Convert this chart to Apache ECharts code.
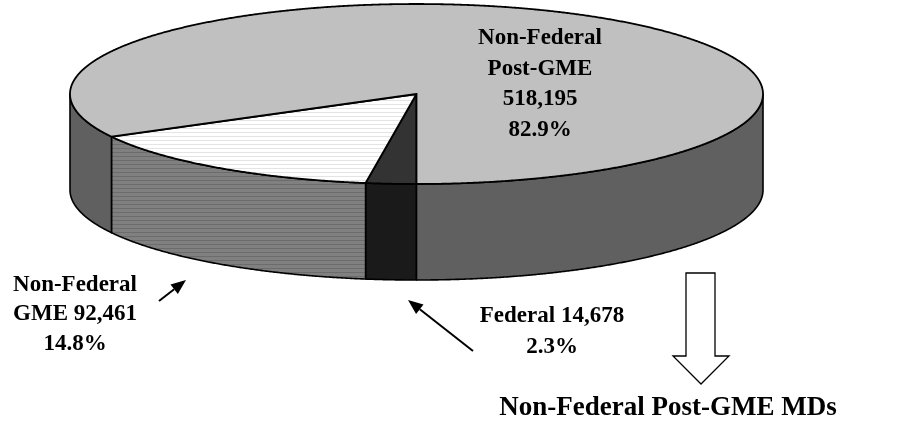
<!DOCTYPE html>
<html>
<head>
<meta charset="utf-8">
<script src="https://cdn.jsdelivr.net/npm/echarts@6/dist/echarts.min.js"></script>
<style>
html, body { margin: 0; padding: 0; background: #fff; }
#main { width: 898px; height: 425px; }
</style>
</head>
<body>
<div id="main"></div>
<script>
// clockwise from the front of the pie
var names = ["Federal", "Non-Federal GME", "Non-Federal Post-GME"];
var values = [14678, 92461, 518195];
var percents = ["2.3%", "14.8%", "82.9%"];
var labelTexts = [
    "Federal 14,678\n2.3%",
    "Non-Federal\nGME 92,461\n14.8%",
    "Non-Federal\nPost-GME\n518,195\n82.9%"
];
var titleText = "Non-Federal Post-GME MDs";

var total = values.reduce(function (a, b) { return a + b; }, 0);

var cx = 416.5, cy = 94, rx = 346.5, ry = 90, depth = 96;
var squash = ry / rx;

function stripes(base, line) {
    var c = document.createElement("canvas");
    c.width = 4;
    c.height = 4;
    var ctx = c.getContext("2d");
    ctx.fillStyle = base;
    ctx.fillRect(0, 0, 4, 4);
    ctx.fillStyle = line;
    ctx.fillRect(0, 0, 4, 1);
    return { image: c, repeat: "repeat" };
}

var topColors = ["#333333", stripes("#ffffff", "#e4e4e4"), "#c0c0c0"];
var sideColors = ["#1a1a1a", stripes("#808080", "#6c6c6c"), "#606060"];

var sliceData = [];
var sum = 0;
values.forEach(function (v, i) {
    sliceData.push([1, sum, sum + v, i]);
    sum += v;
});

function renderSlice(params, api) {
    var start = api.value(1), end = api.value(2), i = api.value(3);
    var n = Math.ceil((end - start) / total * 1440);
    var arc = [];
    for (var k = 0; k <= n; k++) {
        var p = api.coord([1, start + (end - start) * k / n]);
        arc.push([p[0], cy + (p[1] - cy) * squash]);
    }
    var children = [];
    // walls: only the runs of the rim that face the viewer
    var run = [];
    function flush() {
        if (run.length > 1) {
            var pts = run.concat(run.slice().reverse().map(function (q) {
                return [q[0], q[1] + depth];
            }));
            children.push({
                type: "polygon",
                shape: { points: pts },
                style: { fill: sideColors[i], stroke: "#000", lineWidth: 1.6, lineJoin: "round" }
            });
        }
        run = [];
    }
    arc.forEach(function (q) {
        if (q[1] >= cy) {
            run.push(q);
        } else {
            flush();
        }
    });
    flush();
    var centre = api.coord([0, start]);
    children.push({
        type: "polygon",
        shape: { points: [[centre[0], cy]].concat(arc) },
        style: { fill: topColors[i], stroke: "#000", lineWidth: 1.8, lineJoin: "miter" }
    });
    return { type: "group", children: children };
}

function label(x, y, text, size, lh) {
    return {
        type: "text",
        x: x,
        y: y,
        z: 100,
        style: {
            text: text,
            fill: "#000",
            font: "bold " + size + "px 'Liberation Serif'",
            lineHeight: lh,
            align: "center",
            verticalAlign: "top"
        }
    };
}

function arrow(x1, y1, x2, y2) {
    var a = Math.atan2(y2 - y1, x2 - x1);
    var len = 15, w = 6;
    var bx = x2 - len * Math.cos(a), by = y2 - len * Math.sin(a);
    var nx = -Math.sin(a), ny = Math.cos(a);
    return [
        { type: "line", z: 100, shape: { x1: x1, y1: y1, x2: bx, y2: by }, style: { stroke: "#000", lineWidth: 2 } },
        {
            type: "polygon",
            z: 100,
            shape: { points: [[x2, y2], [bx + nx * w, by + ny * w], [bx - nx * w, by - ny * w]] },
            style: { fill: "#000" }
        }
    ];
}

var myChart = echarts.init(document.getElementById("main"), null, { renderer: "canvas" });

var option = {
    backgroundColor: "#fff",
    animation: false,
    polar: { center: [cx, cy], radius: rx },
    angleAxis: { type: "value", min: 0, max: total, startAngle: 270, clockwise: true, show: false },
    radiusAxis: { type: "value", min: 0, max: 1, show: false },
    series: [{
        type: "custom",
        coordinateSystem: "polar",
        data: sliceData,
        encode: { radius: 0, angle: 2 },
        renderItem: renderSlice,
        silent: true
    }],
    graphic: [
        label(540, 23, labelTexts[2], 23, 30.5),
        label(75, 270, labelTexts[1], 23, 29.5),
        label(552, 301, labelTexts[0], 23, 31),
        label(668, 392, titleText, 27, 32),
        {
            type: "polygon",
            z: 100,
            shape: {
                points: [[686, 273], [715, 273], [715, 356], [729, 356], [701, 384], [673, 356], [686, 356]]
            },
            style: { fill: "#fff", stroke: "#000", lineWidth: 1.3 }
        }
    ].concat(arrow(159, 301, 186, 280), arrow(473, 351, 408, 300))
};

myChart.setOption(option);
</script>
</body>
</html>
